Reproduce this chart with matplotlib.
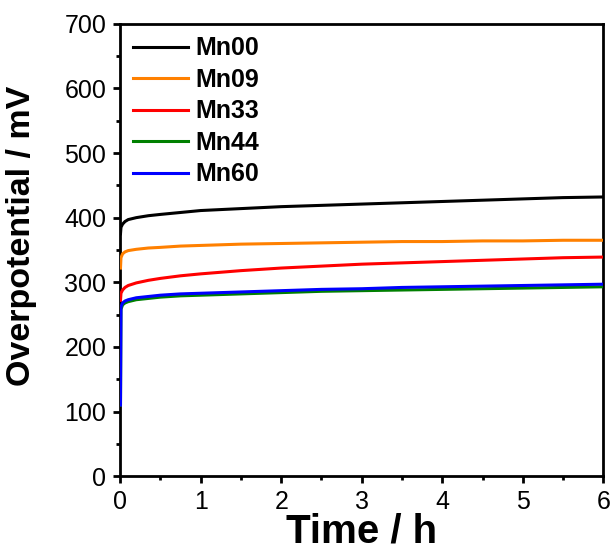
import matplotlib
matplotlib.use('Agg')
import matplotlib.pyplot as plt
import numpy as np

plt.rcParams['font.family'] = ['Liberation Sans', 'DejaVu Sans']

# time in hours
time_h = [0.004, 0.01, 0.03, 0.06, 0.1, 0.2, 0.35, 0.5, 0.75, 1, 1.5, 2, 2.5, 3,
          3.5, 4, 4.5, 5, 5.5, 6]

mn00 = [375, 385, 390, 394, 397, 400, 403, 405, 408, 411, 414, 417, 419, 421,
        423, 425, 427, 429, 431, 432]
mn09 = [322, 338, 344, 347, 349, 351, 353, 354, 356, 357, 359, 360, 361, 362,
        363, 363, 364, 364, 365, 365]
mn33 = [272, 283, 288, 292, 295, 299, 303, 306, 310, 313, 318, 322, 325, 328,
        330, 332, 334, 336, 338, 339]
mn44 = [110, 258, 265, 268, 270, 273, 275, 277, 279, 280, 282, 284, 286, 287,
        288, 289, 290, 291, 292, 293]
mn60 = [110, 262, 268, 271, 273, 276, 278, 280, 282, 283, 285, 287, 289, 290,
        292, 293, 294, 295, 296, 297]

names = ['Mn00', 'Mn09', 'Mn33', 'Mn44', 'Mn60']
colors = ['black', '#ff8000', 'red', 'green', 'blue']

fig = plt.figure(figsize=(6.1, 5.53), dpi=100)
ax = fig.add_axes([0.197, 0.139, 0.792, 0.818])

for y, name, c in zip([mn00, mn09, mn33, mn44, mn60], names, colors):
    ax.plot(time_h, y, color=c, lw=2.2, label=name, zorder=3)

ax.set_xlim(0, 6)
ax.set_ylim(0, 700)
ax.set_xticks(range(0, 7))
ax.set_xticks(np.arange(0.5, 6, 1), minor=True)
ax.set_yticks(range(0, 701, 100))
ax.set_yticks(range(50, 700, 100), minor=True)
ax.tick_params(which='major', direction='out', length=5, width=2, labelsize=18,
               pad=5)
ax.tick_params(which='minor', direction='out', length=3, width=2)
for s in ax.spines.values():
    s.set_linewidth(2)

ax.set_xlabel('Time / h', fontsize=29, fontweight='bold', labelpad=-1)
ax.set_ylabel('Overpotential / mV', fontsize=24.5, fontweight='bold')
ax.yaxis.set_label_coords(-0.172, 0.531)

leg = ax.legend(loc='upper left', frameon=False, handlelength=2.2,
                prop={'weight': 'bold', 'size': 18}, labelspacing=0.3,
                borderaxespad=0.1, handletextpad=0.3)

fig.savefig('out.png', dpi=100)
